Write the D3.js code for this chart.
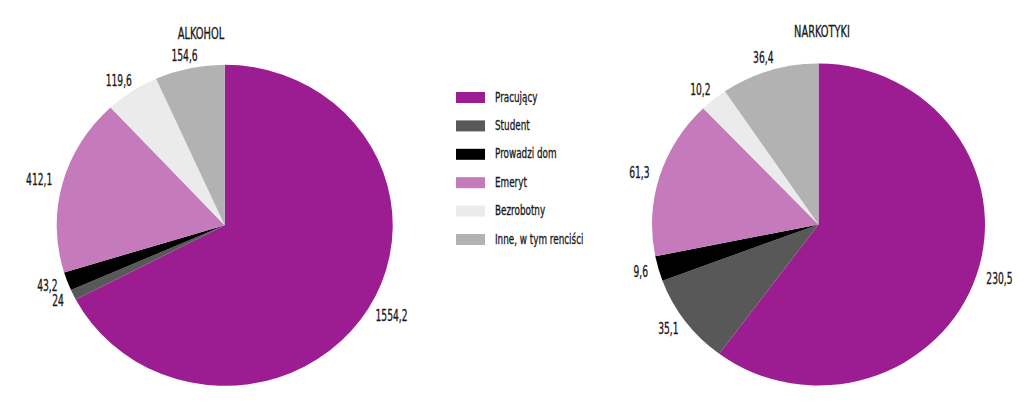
<!DOCTYPE html>
<html><head><meta charset="utf-8">
<script src="https://cdn.jsdelivr.net/npm/d3@7"></script>
<style>
body{margin:0;background:#fff;}
text{font-family:"DejaVu Sans Condensed","DejaVu Sans",sans-serif;font-stretch:condensed;fill:#1a1718;stroke:#1a1718;stroke-width:0.3px;}
</style></head><body>
<svg id="c" width="1024" height="410"></svg>
<script>
const categories = ["Pracujący","Student","Prowadzi dom","Emeryt","Bezrobotny","Inne, w tym renciści"];
const colors = ["#9c1c92","#585858","#000000","#c57abb","#ebebeb","#b2b2b2"];
const alkohol = [1554.2, 24, 43.2, 412.1, 119.6, 154.6];
const narkotyki = [230.5, 35.1, 9.6, 61.3, 10.2, 36.4];
const titles = ["ALKOHOL","NARKOTYKI"];

const svg = d3.select("#c");
const SXL = 0.68, SXT = 0.73, SXG = 0.7;
const fmt = v => String(v).replace(".", ",");
const pie = d3.pie().sort(null).value(d => d.v);

function drawPie(vals, title, cx, cy, rx, ry, titleX, titleY) {
  const g = svg.append("g").attr("transform", `translate(${cx},${cy})`);
  const data = pie(vals.map((v, i) => ({v, i})));
  const arc = d3.arc().innerRadius(0).outerRadius(rx);
  g.append("g").attr("transform", `scale(1,${ry / rx})`)
    .selectAll("path").data(data).join("path")
    .attr("d", arc).attr("fill", d => colors[d.data.i]);
  const lab = g.selectAll("text.l").data(data).join("text").attr("class","l")
    .attr("font-size", 15).attr("text-anchor","middle").attr("dominant-baseline","central")
    .text(d => fmt(d.data.v));
  lab.each(function(d) {
    const a = (d.startAngle + d.endAngle) / 2;
    const dx = Math.sin(a), dy = -Math.cos(a);
    const bb = this.getBBox();
    const pad = 11;
    const x = (rx + pad) * dx + dx * bb.width * SXL / 2;
    const y = (ry + pad) * dy + dy * 2;
    d3.select(this).attr("transform", `translate(${x},${y}) scale(${SXL},1)`);
  });
  svg.append("text").attr("transform", `translate(${titleX},${titleY}) scale(${SXT},1)`)
    .attr("text-anchor","middle").attr("dominant-baseline","central")
    .attr("font-size", 15).text(title);
}

drawPie(alkohol, titles[0], 224.7, 225.3, 168, 160.5, 201, 34);
drawPie(narkotyki, titles[1], 818.5, 224.5, 166.5, 161, 822, 32);

const leg = svg.append("g").attr("transform","translate(456,97)");
const y = d3.scalePoint().domain(categories).range([0, 142]);
const row = leg.selectAll("g").data(categories).join("g").attr("transform", d => `translate(0,${y(d)})`);
row.append("rect").attr("x",0).attr("y",-5).attr("width",29).attr("height",11)
  .attr("fill", (d,i) => colors[i]);
row.append("text").attr("transform", `translate(39,0) scale(${SXG},1)`).attr("dominant-baseline","central")
  .attr("font-size",14).text(d => d);
</script></body></html>
